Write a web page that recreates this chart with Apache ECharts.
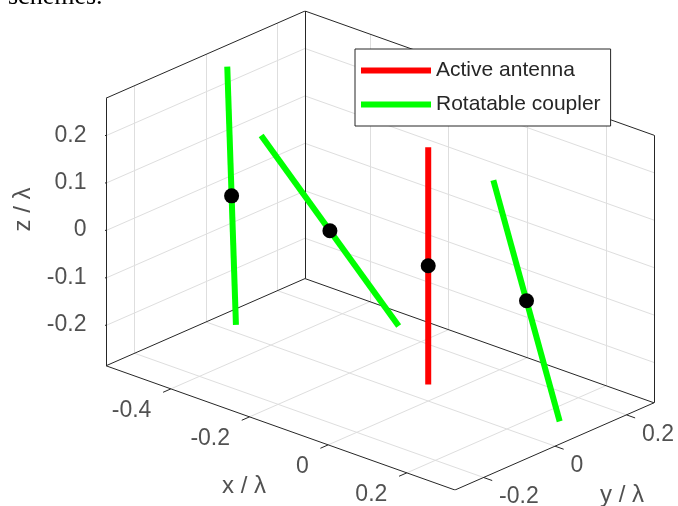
<!DOCTYPE html>
<html>
<head>
<meta charset="utf-8">
<script src="https://cdn.jsdelivr.net/npm/echarts@6/dist/echarts.min.js"></script>
<style>
html, body { margin: 0; padding: 0; background: #fff; }
#chart { width: 678px; height: 506px; }
</style>
</head>
<body>
<div id="chart"></div>
<script>
// axis limits and ticks, in wavelengths
const xLim = [-0.565, 0.3225]
const yLim = [-0.28, 0.277]
const zLim = [-0.285, 0.279]
const xTicks = [-0.4, -0.2, 0, 0.2]
const yTicks = [-0.2, 0, 0.2]
const zTicks = [-0.2, -0.1, 0, 0.1, 0.2]
const xTickLabels = ['-0.4', '-0.2', '0', '0.2']
const yTickLabels = ['-0.2', '0', '0.2']
const zTickLabels = ['-0.2', '-0.1', '0', '0.1', '0.2']

// dipoles: centre [x, y, z] and half-length vector
const antennaCenters = [[0, 0, 0]]
const antennaHalf = [[0, 0, 0.25]]
const couplerCenters = [[-0.5, 0, 0], [-0.25, 0, 0], [0.25, 0, 0]]
const couplerHalf = [[-0.061, 0.055, 0.236], [-0.213, 0.042, 0.124], [-0.068, -0.018, 0.24]]

// orthographic view, like matlab's view(az, el)
const az = 42.03 * Math.PI / 180
const el = 23.21 * Math.PI / 180
const boxAspect = [1.617, 1.023, 1]
const tickLen = 0.04

const FONT = "'Liberation Sans', Arial, Helvetica, sans-serif"
const TEXT = '#262626'

const norm = (v, lim) => (v - lim[0]) / (lim[1] - lim[0])
const project = (p) => {
  const X = norm(p[0], xLim) * boxAspect[0]
  const Y = norm(p[1], yLim) * boxAspect[1]
  const Z = norm(p[2], zLim) * boxAspect[2]
  return [
    X * Math.cos(az) + Y * Math.sin(az),
    -X * Math.sin(az) * Math.sin(el) + Y * Math.cos(az) * Math.sin(el) + Z * Math.cos(el)
  ]
}

const [x0, x1] = xLim
const [y0, y1] = yLim
const [z0, z1] = zLim

// projected extents of the box
const corners = []
for (const x of xLim) for (const y of yLim) for (const z of zLim) corners.push(project([x, y, z]))
const uMin = Math.min(...corners.map(c => c[0]))
const uMax = Math.max(...corners.map(c => c[0]))
const vMin = Math.min(...corners.map(c => c[1]))
const vMax = Math.max(...corners.map(c => c[1]))

// grid lines on the three back planes
const gridSegs = []
yTicks.forEach(y => gridSegs.push([[x0, y, z0], [x0, y, z1]], [[x0, y, z0], [x1, y, z0]]))
zTicks.forEach(z => gridSegs.push([[x0, y0, z], [x0, y1, z]], [[x0, y1, z], [x1, y1, z]]))
xTicks.forEach(x => gridSegs.push([[x, y1, z0], [x, y1, z1]], [[x, y0, z0], [x, y1, z0]]))

// box edges (back ones plus the two front floor edges)
const boxSegs = [
  [[x0, y0, z0], [x0, y0, z1]],
  [[x0, y1, z0], [x0, y1, z1]],
  [[x1, y1, z0], [x1, y1, z1]],
  [[x0, y0, z1], [x0, y1, z1]],
  [[x0, y1, z1], [x1, y1, z1]],
  [[x0, y0, z0], [x0, y1, z0]],
  [[x0, y1, z0], [x1, y1, z0]],
  [[x0, y0, z0], [x1, y0, z0]],
  [[x1, y0, z0], [x1, y1, z0]]
]

// tick marks
const dX = tickLen / boxAspect[0] * (x1 - x0)
const dY = tickLen / boxAspect[1] * (y1 - y0)
const tickSegs = []
zTicks.forEach(z => tickSegs.push([[x0, y0, z], [x0 - dX, y0, z]]))
xTicks.forEach(x => tickSegs.push([[x, y0, z0], [x, y0 - dY, z0]]))
yTicks.forEach(y => tickSegs.push([[x1, y, z0], [x1 + dX, y, z0]]))

const toLines = segs => segs.map(s => ({ coords: [project(s[0]), project(s[1])] }))

const segSeries = (segs, color, z) => ({
  type: 'lines',
  coordinateSystem: 'cartesian2d',
  silent: true,
  z,
  lineStyle: { color, width: 1, opacity: 1, curveness: 0 },
  data: toLines(segs)
})

const labelSeries = (items, label) => ({
  type: 'scatter',
  silent: true,
  z: 6,
  symbolSize: 1,
  itemStyle: { color: 'rgba(0,0,0,0)' },
  label: Object.assign({
    show: true,
    formatter: '{b}',
    color: TEXT,
    fontSize: 23,
    fontFamily: FONT,
    verticalAlign: 'middle'
  }, label),
  data: items
})

const dipoleSeries = (name, color, centers, halves) => centers.map((c, i) => {
  const h = halves[i]
  return {
    type: 'line',
    name,
    symbol: 'none',
    silent: true,
    z: 4,
    color,
    lineStyle: { color, width: 6, cap: 'butt' },
    itemStyle: { color },
    data: [
      project([c[0] - h[0], c[1] - h[1], c[2] - h[2]]),
      project([c[0] + h[0], c[1] + h[1], c[2] + h[2]])
    ]
  }
})

const series = [
  segSeries(gridSegs, '#dedede', 1),
  segSeries(boxSegs, '#262626', 2),
  segSeries(tickSegs, '#262626', 2),
  ...dipoleSeries('Active antenna', '#ff0000', antennaCenters, antennaHalf),
  ...dipoleSeries('Rotatable coupler', '#00ff00', couplerCenters, couplerHalf),
  {
    type: 'scatter',
    silent: true,
    z: 5,
    symbolSize: 15,
    itemStyle: { color: '#000', opacity: 1 },
    data: antennaCenters.concat(couplerCenters).map(project)
  },
  labelSeries(zTicks.map((z, i) => ({ name: zTickLabels[i], value: project([x0, y0, z]) })),
    { position: [-19, 0], align: 'right' }),
  labelSeries(xTicks.map((x, i) => ({ name: xTickLabels[i], value: project([x, y0, z0]) })),
    { position: [-19, 22], align: 'right' }),
  labelSeries(yTicks.map((y, i) => ({ name: yTickLabels[i], value: project([x1, y, z0]) })),
    { position: [16, 20], align: 'left' }),
  labelSeries([{ name: 'x / λ', value: project([(x0 + x1) / 2, y0, z0]) }],
    { position: [-36, 59], align: 'center', fontSize: 24 }),
  labelSeries([{ name: 'y / λ', value: project([x1, (y0 + y1) / 2, z0]) }],
    { position: [68, 49], align: 'center', fontSize: 24 }),
  labelSeries([{ name: 'z / λ', value: project([x0, y0, (z0 + z1) / 2]) }],
    { position: [-82, -22], align: 'center', rotate: 90, fontSize: 24 })
]

const chart = echarts.init(document.getElementById('chart'))
chart.setOption({
  backgroundColor: '#fff',
  animation: false,
  grid: { left: 106, top: 11, width: 548, height: 479 },
  xAxis: { type: 'value', min: uMin, max: uMax, show: false },
  yAxis: { type: 'value', min: vMin, max: vMax, show: false },
  legend: {
    data: ['Active antenna', 'Rotatable coupler'],
    orient: 'vertical',
    left: 355,
    top: 49,
    padding: [11, 10, 11, 6],
    itemGap: 13,
    itemWidth: 70,
    itemHeight: 6,
    icon: 'rect',
    selectedMode: false,
    backgroundColor: '#fff',
    borderColor: '#262626',
    borderWidth: 1,
    borderRadius: 0,
    z: 10,
    textStyle: { fontSize: 21, color: TEXT, fontFamily: FONT }
  },
  graphic: [{
    type: 'text',
    x: 8,
    y: -3,
    style: {
      text: 'schemes.',
      font: "26px 'Liberation Serif', 'Times New Roman', serif",
      fill: '#000',
      verticalAlign: 'middle'
    }
  }],
  series
})
</script>
</body>
</html>
